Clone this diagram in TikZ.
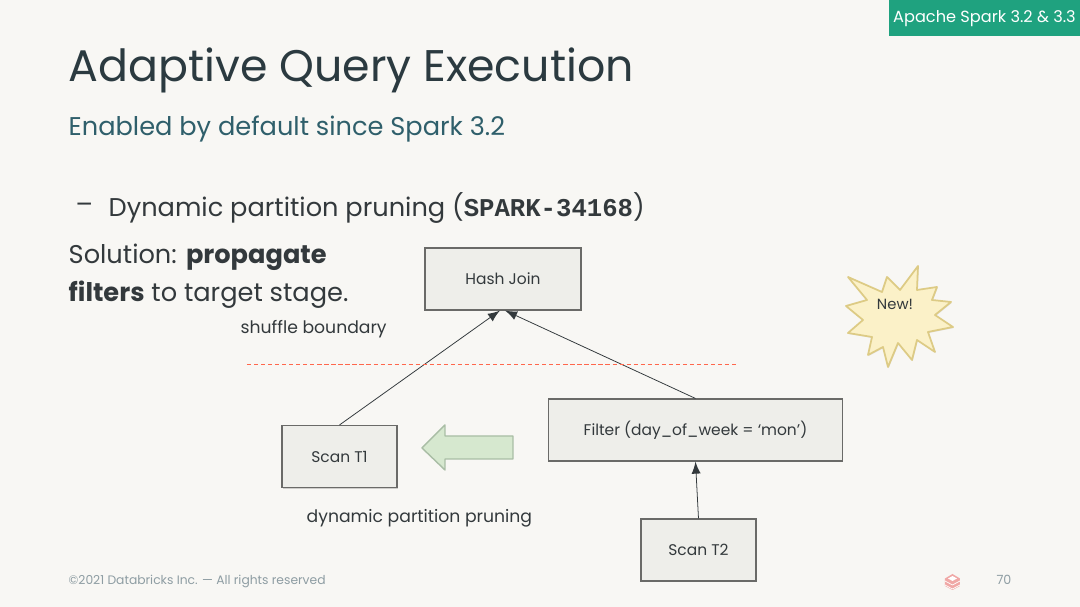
\documentclass[tikz,border=0pt]{standalone}
\usepackage{fontspec}
\setmainfont{Poppins}
\newfontfamily\codefont{Liberation Mono}
\usetikzlibrary{shadows}
\definecolor{slidebg}{HTML}{F8F7F4}
\definecolor{tagteal}{HTML}{1FA27F}
\definecolor{titleink}{HTML}{2B3A40}
\definecolor{subink}{HTML}{2F5F6B}
\definecolor{bodyink}{HTML}{33393C}
\definecolor{footink}{HTML}{8E9DA3}
\definecolor{boxfill}{HTML}{EEEEEA}
\definecolor{boxline}{HTML}{6A6A68}
\definecolor{burstfill}{HTML}{FBF1C8}
\definecolor{burstline}{HTML}{DDCB85}
\definecolor{pushfill}{HTML}{D6E8CF}
\definecolor{pushline}{HTML}{A9BDA5}
\definecolor{logored}{HTML}{F0A8A6}
\tikzset{
  planbox/.style={draw=boxline, fill=boxfill, line width=0.3pt, inner sep=0pt,
    drop shadow={shadow xshift=0.2pt, shadow yshift=-0.4pt, opacity=0.35},
    font=\fontsize{4.4}{5}\selectfont, text=bodyink},
  note/.style={font=\fontsize{4.9}{6}\selectfont, text=bodyink, inner sep=0pt},
  link/.style={-latex, line width=0.22pt, draw=bodyink}
}
\begin{document}
\begin{tikzpicture}[x=0.1mm, y=-0.1mm]
  \useasboundingbox[fill=slidebg] (0,0) rectangle (1080,607);

  % Tag in the corner
  \fill[tagteal] (889,0) rectangle (1080,36);
  \node[text=white, font=\fontsize{4.6}{6}\selectfont, inner sep=0pt] (tag) at (984.5,19) {Apache Spark 3.2 \& 3.3};

  % Headings
  \node[anchor=west, inner sep=0pt, text=titleink, font=\fontsize{12.6}{15}\selectfont] (title) at (68,70) {Adaptive Query Execution};
  \node[anchor=west, inner sep=0pt, text=subink, font=\fontsize{7.3}{9}\selectfont] (subtitle) at (68,129) {Enabled by default since Spark 3.2};
  \node[anchor=west, inner sep=0pt, text=bodyink, font=\fontsize{7.3}{9}\selectfont] (dash) at (75,208) {–};
  \node[anchor=west, inner sep=0pt, text=bodyink, font=\fontsize{7.3}{9}\selectfont] (item) at (108,208) {Dynamic partition pruning ({\codefont\bfseries SPARK-34168})};
  \node[anchor=west, inner sep=0pt, text=bodyink, font=\fontsize{7.3}{9}\selectfont] (sol1) at (68,257) {Solution: \textbf{propagate}};
  \node[anchor=west, inner sep=0pt, text=bodyink, font=\fontsize{7.3}{9}\selectfont] (sol2) at (68,295) {\textbf{filters} to target stage.};

  % Plan boxes
  \node[planbox, minimum width=1.56cm, minimum height=0.62cm] (hash) at (503,279) {Hash Join};
  \node[planbox, minimum width=1.15cm, minimum height=0.62cm] (scanone) at (339.5,456.5) {Scan T1};
  \node[planbox, minimum width=2.94cm, minimum height=0.62cm] (filter) at (695.5,430) {Filter (day\_of\_week = ‘mon’)};
  \node[planbox, minimum width=1.15cm, minimum height=0.62cm] (scantwo) at (698.5,550) {Scan T2};

  % Plan edges
  \draw[link] (scanone.north) -- ([xshift=-0.3mm]hash.south);
  \draw[link] (filter.north) -- ([xshift=0.2mm]hash.south);
  \draw[link] (scantwo.north) -- (filter.south);

  % Stage line and notes
  \coordinate (cutl) at (247,364); \coordinate (cutr) at (738,364);
  \draw[red!70!orange!70, dashed, line width=0.2pt, dash pattern=on 1.2pt off 0.8pt] (cutl) -- (cutr);
  \node[note, anchor=west] (shuffle) at (240,329) {shuffle boundary};
  \node[note, anchor=west] (dpp) at (306,518) {dynamic partition pruning};

  % Pruning arrow
  \filldraw[draw=pushline, fill=pushfill, line width=0.4pt, line join=round]
    (422,448) -- (445,425) -- (445,436) -- (513,436) -- (513,459) -- (445,459) -- (445,470) -- cycle;

  % Burst
  \filldraw[draw=burstline, fill=burstfill, line width=0.5pt, line join=round,
    drop shadow={shadow xshift=0.2pt, shadow yshift=-0.3pt, opacity=0.2}]
    (918,266) -- (900,290) -- (887,277) -- (882,292) -- (848,277) -- (867,300) -- (846,306)
    -- (863,320) -- (848,333) -- (872,337) -- (868,355) -- (883,347) -- (888,367) -- (898,343)
    -- (912,360) -- (917,340) -- (935,352) -- (928,332) -- (953,327) -- (935,315) -- (951,302)
    -- (932,300) -- (937,287) -- (917,290) -- cycle;
  \node[font=\fontsize{4.2}{5}\selectfont, text=bodyink, inner sep=0pt] (new) at (895,304) {New!};

  % Footer
  \node[anchor=west, inner sep=0pt, text=footink, font=\fontsize{3.5}{4}\selectfont] (foot) at (68,581.5) {©2021 Databricks Inc. — All rights reserved};
  \node[inner sep=0pt, text=footink, font=\fontsize{3.6}{4}\selectfont] (page) at (1004,580) {70};
  \fill[logored] (952.5,574) -- (960,578.5) -- (960,586) -- (952.5,590) -- (945,586) -- (945,578.5) -- cycle;
  \foreach \y in {581,585} \draw[white, line width=0.2pt] (945,\y) -- (952.5,\y+4) -- (960,\y);
  \fill[white] (952.5,576) -- (957,578.5) -- (952.5,581) -- (948,578.5) -- cycle;
\end{tikzpicture}
\end{document}
